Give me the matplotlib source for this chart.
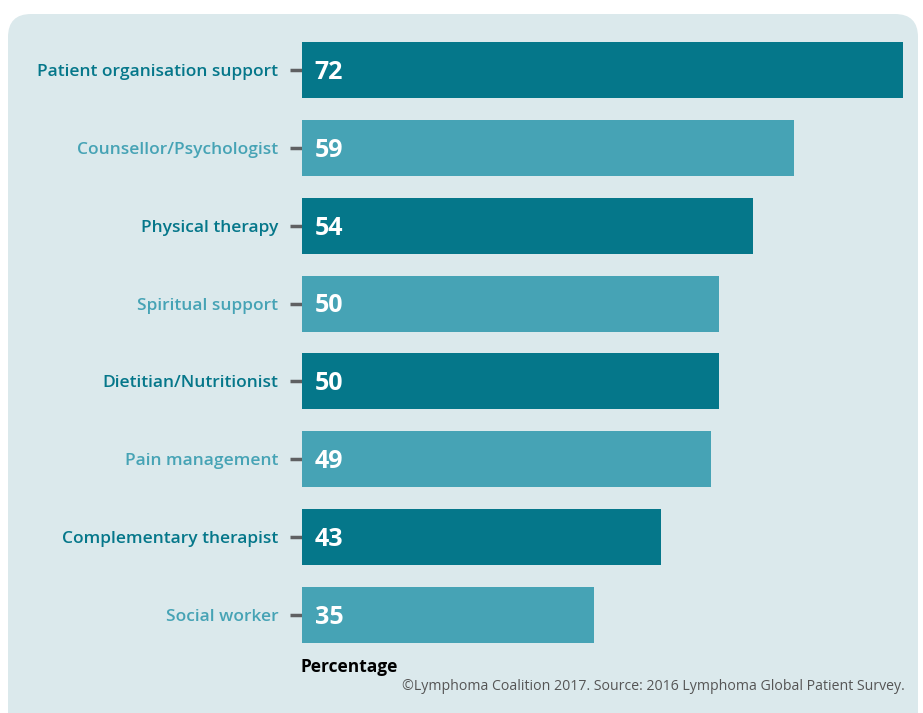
import matplotlib.pyplot as plt
from matplotlib.patches import FancyBboxPatch

categories = ['Patient organisation support', 'Counsellor/Psychologist', 'Physical therapy',
              'Spiritual support', 'Dietitian/Nutritionist', 'Pain management',
              'Complementary therapist', 'Social worker']
values = [72, 59, 54, 50, 50, 49, 43, 35]

dark = '#05778A'
light = '#46A3B5'
panel = '#DBE9EC'
colors = [dark if i % 2 == 0 else light for i in range(len(values))]

W, H = 923, 713
fig = plt.figure(figsize=(W / 100, H / 100), dpi=100)
fig.patch.set_facecolor('white')

# rounded background panel (runs off the bottom edge)
bg = FancyBboxPatch((8 / W, -40 / H), (918 - 8) / W, (H - 14 + 40) / H,
                    boxstyle='round,pad=0,rounding_size=0.025',
                    transform=fig.transFigure, facecolor=panel, edgecolor='none',
                    mutation_aspect=W / H, zorder=-5)
fig.patches.append(bg)

# axes placed so that 0..72 spans the bar area
ax = fig.add_axes([302 / W, (H - 654) / H, (903 - 302) / W, (654 - 31) / H])
ax.set_zorder(2)
ax.set_facecolor('none')
y = list(range(len(values)))
ax.barh(y, values, height=0.72, color=colors, zorder=2)
ax.set_xlim(0, 72)
ax.set_ylim(len(values) - 0.5, -0.5)

for i, v in enumerate(values):
    ax.text(1.5, i + 0.03, str(v), color='white', fontsize=18, fontweight='bold',
            family='Open Sans', va='center', ha='left', zorder=3)

ax.set_yticks(y)
ax.set_yticklabels(categories, family='Open Sans', fontsize=12.5, fontweight='semibold')
for lbl, c in zip(ax.get_yticklabels(), colors):
    lbl.set_color(c)
ax.tick_params(axis='y', length=9, width=2.5, color='#5f6062', pad=8)
ax.set_xticks([])
for s in ax.spines.values():
    s.set_visible(False)

fig.text(301 / W, 1 - 667 / H, 'Percentage', fontsize=12.5, fontweight='bold',
         family='Open Sans', color='black', va='center', ha='left')
fig.text(905 / W, 1 - 687 / H,
         '\u00a9Lymphoma Coalition 2017. Source: 2016 Lymphoma Global Patient Survey.',
         fontsize=10.2, family='Open Sans', color='#555555', va='center', ha='right')

fig.savefig('out.png', dpi=100)
